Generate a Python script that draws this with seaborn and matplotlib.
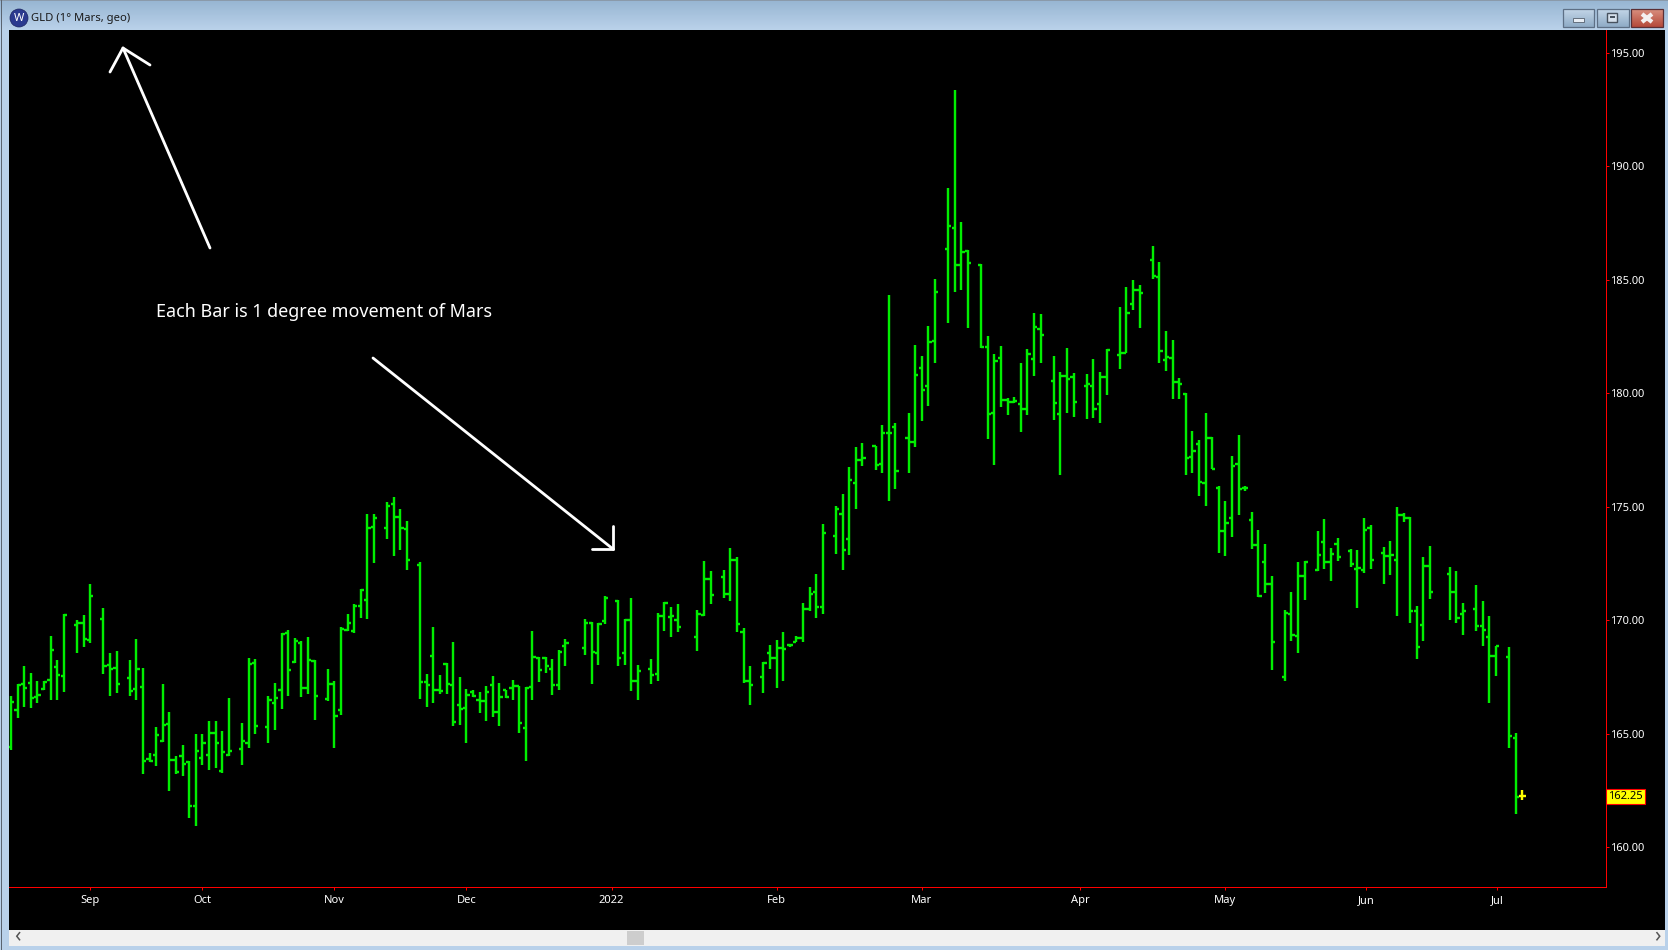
import numpy as np
import pandas as pd
import matplotlib
matplotlib.use("Agg")
import matplotlib.pyplot as plt
from matplotlib.patches import Rectangle, Circle
import seaborn as sns

# GLD price bars, one bar per degree of Mars. None = empty slot on the axis
bar_high = [
    166.67,167.2,168.0,167.68,167.33,167.33,169.31,168.25,170.28,None,
    170.01,170.23,171.6,None,170.54,168.56,168.65,None,168.25,169.18,
    167.9,164.16,165.3,167.2,165.96,164.02,164.51,163.8,164.99,164.99,
    165.57,165.57,165.12,166.58,None,165.48,168.34,168.3,None,166.67,
    167.24,169.44,169.57,169.22,169.09,169.27,168.25,None,167.86,167.33,
    169.71,170.28,170.72,171.38,174.68,174.68,None,175.21,175.43,174.9,
    174.38,None,172.57,167.64,169.71,167.59,168.12,169.05,167.5,166.98,
    166.93,166.84,167.11,167.55,167.24,166.93,167.37,167.11,167.06,169.53,
    168.38,168.38,168.3,168.69,169.18,None,None,170.06,169.93,169.88,
    171.07,None,170.9,170.06,170.98,168.03,None,168.3,170.32,170.81,
    170.59,170.72,None,None,170.46,172.61,172.17,None,172.22,173.19,
    172.79,169.66,167.99,None,168.16,168.91,169.13,169.49,168.96,169.31,
    170.76,171.47,172.04,174.24,None,175.04,175.57,176.75,177.64,177.81,
    None,177.68,178.6,184.33,178.69,None,179.13,182.13,181.64,182.97,
    185.04,None,189.05,193.36,187.55,186.31,None,185.7,182.53,181.73,
    182.09,179.79,179.84,181.34,181.95,183.54,183.49,None,181.64,180.94,
    182.0,180.9,None,180.85,181.51,180.94,181.95,None,183.8,184.68,
    184.99,184.77,None,186.49,185.79,182.75,182.35,180.68,180.0,178.34,
    177.94,179.13,178.08,175.92,175.26,177.24,178.16,175.92,174.77,173.98,
    173.36,171.95,None,170.46,171.25,172.57,172.61,None,173.94,174.46,
    173.19,173.63,None,173.14,173.1,174.51,174.2,None,173.23,173.5,
    174.99,174.73,174.55,170.63,172.79,173.27,None,None,172.35,172.17,
    170.76,None,171.56,170.85,170.19,168.87,None,168.83,165.04,162.53,
]
bar_low = [
    164.29,165.7,166.18,166.14,166.36,166.93,166.49,166.49,166.84,None,
    168.56,168.83,169.0,None,167.64,166.67,166.8,None,166.67,166.49,
    163.23,163.76,163.58,164.64,162.48,163.23,163.14,161.29,160.94,163.63,
    163.41,163.49,163.27,164.02,None,163.63,164.38,164.99,None,164.6,
    165.17,166.09,166.67,168.12,166.62,166.75,165.61,None,166.45,164.38,
    165.83,169.53,169.44,170.1,170.06,172.52,None,173.58,172.83,173.1,
    172.22,None,166.53,166.18,166.36,166.75,166.75,165.35,165.39,164.6,
    166.62,165.92,165.57,165.74,165.35,166.58,166.49,165.04,163.8,166.49,
    167.28,167.68,166.71,166.93,167.99,None,None,168.47,167.2,168.03,
    169.84,None,167.99,168.03,166.89,166.49,None,167.2,167.33,169.53,
    169.27,169.49,None,None,168.65,170.19,170.72,None,170.98,170.85,
    169.49,167.24,166.27,None,166.8,167.86,167.02,167.33,168.83,169.05,
    169.05,170.41,170.1,170.28,None,172.92,172.22,172.88,174.9,176.8,
    None,176.62,176.49,175.26,175.79,None,176.49,177.64,178.78,179.44,
    181.34,None,183.1,184.46,184.55,182.88,None,182.0,177.99,176.84,
    179.4,179.05,179.57,178.3,179.05,180.76,181.34,None,178.83,176.4,
    179.13,178.96,None,178.87,178.91,178.69,179.93,None,181.07,181.78,
    183.67,182.88,None,185.04,181.34,180.98,179.75,179.75,176.4,176.49,
    175.48,175.04,176.67,172.97,172.83,173.67,174.64,175.7,173.14,171.03,
    171.2,167.81,None,167.33,169.09,168.56,170.9,None,172.17,172.26,
    171.73,172.61,None,172.35,170.54,172.09,172.26,None,171.6,172.0,
    170.19,174.33,169.88,168.3,169.09,170.94,None,None,170.01,169.88,
    169.35,None,169.53,168.87,166.36,167.55,None,164.38,161.47,162.09,
]
bar_open = [
    164.42,166.05,167.2,167.24,166.62,166.97,167.37,167.94,167.55,None,
    169.79,169.9,169.13,None,170.06,168.03,167.9,None,167.46,166.97,
    167.06,163.89,164.07,164.68,165.43,163.85,164.02,163.76,161.82,163.94,
    164.07,165.04,163.36,164.07,None,164.33,164.6,168.12,None,165.3,
    166.36,166.93,169.44,168.16,169.0,167.02,168.21,None,166.53,167.2,
    166.05,169.57,169.53,170.63,170.9,174.11,None,174.07,175.12,174.55,
    174.02,None,172.44,167.28,168.43,166.93,168.08,167.15,166.27,166.14,
    166.84,166.49,166.45,167.15,165.96,166.93,167.02,167.11,165.26,167.06,
    168.34,168.34,167.86,167.15,168.87,None,None,168.78,169.88,168.56,
    169.97,None,170.85,168.56,170.01,167.33,None,167.86,167.64,170.19,
    170.15,170.01,None,None,169.27,170.23,171.82,None,171.91,171.16,
    172.66,169.49,167.33,None,167.5,168.56,168.34,168.78,168.9,169.05,
    169.22,170.5,171.25,170.59,None,173.72,174.68,173.58,176.05,177.06,
    None,177.68,176.89,178.25,178.52,None,178.03,177.86,181.12,180.32,
    182.31,None,186.36,187.28,185.65,186.27,None,185.65,182.04,179.13,
    181.56,179.71,179.62,179.53,179.31,181.51,182.83,None,180.54,179.09,
    180.76,180.72,None,180.32,180.32,179.53,180.72,None,181.69,181.78,
    183.94,184.55,None,185.87,185.12,181.47,181.56,180.5,179.95,177.2,
    177.77,176.05,178.03,175.83,173.94,174.51,176.89,175.83,174.42,173.32,
    172.57,171.6,None,167.5,170.28,169.31,171.95,None,172.22,173.45,
    172.57,173.36,None,173.05,172.26,172.22,174.07,None,172.97,172.83,
    172.66,174.64,174.51,170.41,169.79,172.39,None,None,172.04,171.25,
    170.28,None,170.5,169.75,169.27,168.43,None,168.38,164.82,162.25,
]
bar_close = [
    166.4,167.15,167.02,166.58,166.71,167.28,168.69,167.59,170.23,None,
    169.9,169.18,171.07,None,167.99,167.86,167.2,None,166.89,167.86,
    163.8,163.8,164.95,165.39,163.85,163.32,163.67,161.82,164.24,164.6,
    165.04,164.6,164.2,164.24,None,164.68,168.08,165.35,None,166.49,
    166.58,169.4,167.81,169.09,167.02,168.25,166.67,None,167.2,165.79,
    169.62,169.9,170.63,171.34,174.07,174.51,None,175.04,174.55,174.07,
    172.66,None,167.28,167.15,166.93,166.89,167.2,165.52,166.09,166.71,
    166.67,166.45,166.84,165.96,166.62,166.62,167.11,165.48,167.02,168.38,
    167.81,167.99,167.15,168.6,169.0,None,None,169.88,168.6,169.84,
    170.98,None,168.34,170.01,167.33,167.77,None,167.59,170.19,170.76,
    170.19,169.71,None,None,170.28,171.82,171.12,None,171.16,172.66,
    169.84,167.33,167.15,None,168.12,168.34,168.78,168.74,168.9,169.22,
    170.5,171.16,170.59,173.85,None,174.9,173.1,176.18,177.06,177.15,
    None,176.84,178.25,178.25,176.58,None,177.86,180.81,180.15,182.26,
    184.46,None,187.37,185.65,186.23,185.74,None,182.04,179.09,181.42,
    179.71,179.62,179.66,179.31,181.73,182.92,182.57,None,179.57,180.76,
    180.63,179.62,None,180.41,179.31,180.72,181.91,None,181.78,183.54,
    184.55,184.42,None,185.17,181.87,181.6,180.5,180.4,177.15,177.46,
    176.09,178.03,176.67,173.94,174.29,176.8,175.79,175.83,173.32,171.07,
    171.6,169.05,None,170.32,169.35,171.95,172.57,None,172.88,172.57,
    172.92,172.79,None,172.48,172.3,173.98,172.66,None,172.83,172.88,
    174.64,174.51,170.41,168.83,172.39,171.25,None,None,171.25,170.1,
    170.41,None,169.75,169.57,168.43,168.87,None,164.9,162.22,162.25,
]

date_ticks = [12, 29, 49, 69, 91, 116, 138, 162, 184, 205.3, 225.2]
date_labels = ["Sep", "Oct", "Nov", "Dec", "2022", "Feb", "Mar", "Apr", "May", "Jun", "Jul"]
price_ticks = [160, 165, 170, 175, 180, 185, 190, 195]
last_price = 162.25
window_title = "GLD (1° Mars, geo)"
note_text = "Each Bar is 1 degree movement of Mars"

GREEN = "#00ee00"
YELLOW = "#ffff00"
RED = "#ff0000"
W, H = 1668, 950
PX = 72 / 100  # one pixel in points

sns.set_theme(style="dark", rc={"axes.grid": False})
plt.rcParams["font.family"] = ["Noto Sans", "DejaVu Sans"]

fig = plt.figure(figsize=(W / 100, H / 100), dpi=100, facecolor="#b9d1ea")

# window frame, drawn in pixel coordinates on a full size axes
chrome = fig.add_axes([0, 0, 1, 1], zorder=0)
chrome.set_xlim(0, W)
chrome.set_ylim(H, 0)
chrome.axis("off")


def gradient(x0, y0, x1, y1, top, bottom, z=1):
    cmap = matplotlib.colors.LinearSegmentedColormap.from_list("g", [top, bottom])
    chrome.imshow(np.linspace(0, 1, 64).reshape(-1, 1), cmap=cmap, aspect="auto",
                  extent=(x0, x1, y1, y0), zorder=z)
    chrome.set_xlim(0, W)
    chrome.set_ylim(H, 0)


gradient(0, 0, W, 30, "#97b5d2", "#bad2ea")
chrome.add_patch(Rectangle((0, 0), W, 1, fc="#8a9aaa", ec="none", zorder=2))
chrome.add_patch(Rectangle((1, 0), 1, H, fc="#5a6470", ec="none", zorder=2))
chrome.add_patch(Rectangle((9, 30), 1656, 900, fc="black", ec="none", zorder=1))
chrome.add_patch(Rectangle((9, 930), 1656, 16, fc="#f0f0f0", ec="none", zorder=1))
chrome.add_patch(Rectangle((627, 931), 17, 14, fc="#cdcdcd", ec="none", zorder=2))
chrome.text(17, 937, "‹", color="#555555", fontsize=15, fontweight="bold",
            ha="center", va="center", zorder=3)
chrome.text(1657, 937, "›", color="#555555", fontsize=15, fontweight="bold",
            ha="center", va="center", zorder=3)

# title bar icon and text
chrome.add_patch(Circle((19, 18), 9, fc="#2b3a8f", ec="#1c2560", lw=0.5, zorder=3))
chrome.text(19, 18.5, "W", color="white", fontsize=8, fontweight="bold",
            ha="center", va="center", zorder=4)
chrome.text(31, 18.5, window_title, color="#1a1a1a", fontsize=8.1, ha="left",
            va="center", zorder=4)

# title bar buttons
gradient(1563, 9, 1594, 27, "#c3d6e8", "#8fabc6", z=3)
gradient(1597, 9, 1629, 27, "#c3d6e8", "#8fabc6", z=3)
gradient(1631, 9, 1663, 27, "#d9907f", "#b5493a", z=3)
for x0, x1, edge in [(1563, 1594, "#5d6f85"), (1597, 1629, "#5d6f85"), (1631, 1663, "#5b2f35")]:
    chrome.add_patch(Rectangle((x0, 9), x1 - x0, 18, fc="none", ec=edge, lw=0.9, zorder=4))
chrome.add_patch(Rectangle((1573, 18), 11, 3.5, fc="#e8eef5", ec="#55606e", lw=0.6, zorder=5))
chrome.add_patch(Rectangle((1607.5, 13), 10, 9, fc="#d5e0ec", ec="#47525f", lw=1, zorder=5))
chrome.add_patch(Rectangle((1610, 16), 5, 2, fc="#47525f", ec="none", zorder=6))
chrome.plot([1642, 1652], [14, 22], color="#f4f0f0", lw=3, solid_capstyle="butt", zorder=5)
chrome.plot([1642, 1652], [22, 14], color="#f4f0f0", lw=3, solid_capstyle="butt", zorder=5)

# the chart itself
ax = fig.add_axes([9 / W, 1 - 886.5 / H, (1605.5 - 9) / W, (886.5 - 30) / H],
                  facecolor="black", zorder=1)

bars = pd.DataFrame({
    "bar": np.arange(len(bar_high)),
    "high": bar_high,
    "low": bar_low,
    "open": bar_open,
    "close": bar_close,
}, dtype=float).dropna()
bars["last"] = bars["bar"] == bars["bar"].max()

stems = bars.melt(id_vars=["bar", "last"], value_vars=["high", "low"], value_name="price")
sns.lineplot(data=stems, x="bar", y="price", hue="last", units="bar", estimator=None,
             palette={False: GREEN, True: YELLOW}, lw=2.4 * PX, legend=False, ax=ax,
             solid_capstyle="butt", snap=True, zorder=3)

# open tick on the left of each stem, close tick on the right
tick_colors = [YELLOW if v else GREEN for v in bars["last"]]
open_ticks = ax.hlines(bars["open"], bars["bar"] - 0.47, bars["bar"], colors=tick_colors,
                       lw=2.4 * PX, zorder=3)
close_ticks = ax.hlines(bars["close"], bars["bar"], bars["bar"] + 0.47, colors=tick_colors,
                        lw=2.4 * PX, zorder=3)
open_ticks.set_snap(True)
close_ticks.set_snap(True)

ax.set_xlim((9 - 11) / 6.6, (1605.5 - 11) / 6.6)
ax.set_ylim(160 + (847.3 - 886.5) / 22.7, 160 + (847.3 - 30) / 22.7)
ax.set_xlabel("")
ax.set_ylabel("")

ax.set_xticks(date_ticks)
ax.set_xticklabels(date_labels)
ax.set_yticks(price_ticks)
ax.set_yticklabels([f"{v:.2f}" for v in price_ticks])
ax.yaxis.tick_right()
ax.tick_params(axis="x", colors="white", labelsize=8, length=2, width=PX, color=RED,
               pad=4, bottom=True)
ax.tick_params(axis="y", colors="white", labelsize=8, length=2, width=PX, color=RED,
               pad=1, right=True)
for side in ["left", "top"]:
    ax.spines[side].set_visible(False)
for side in ["right", "bottom"]:
    ax.spines[side].set_visible(True)
    ax.spines[side].set_color(RED)
    ax.spines[side].set_linewidth(PX)

# last price tag
ax.text(1.0017, last_price, f"{last_price:.2f}", transform=ax.get_yaxis_transform(),
        color="black", fontsize=8, ha="left", va="center", clip_on=False, zorder=5,
        bbox=dict(fc=YELLOW, ec=RED, lw=0.8, boxstyle="square,pad=0.2"))

# hand drawn note and arrows, above the chart
px = chrome.transData
ax.text(156.5, 312, note_text, transform=px, color="white", fontsize=12.95, ha="left",
        va="center", zorder=6)
for xs, ys in [([210, 123], [248, 48]), ([110, 123, 150], [72, 48, 65]),
               ([373, 613], [358, 549]), ([613, 613], [526, 549]), ([592, 613], [549, 549])]:
    ax.plot(xs, ys, transform=px, color="white", lw=2.8 * PX, solid_capstyle="round",
            clip_on=False, zorder=6)

fig.savefig("out.png", dpi=100, facecolor=fig.get_facecolor())
